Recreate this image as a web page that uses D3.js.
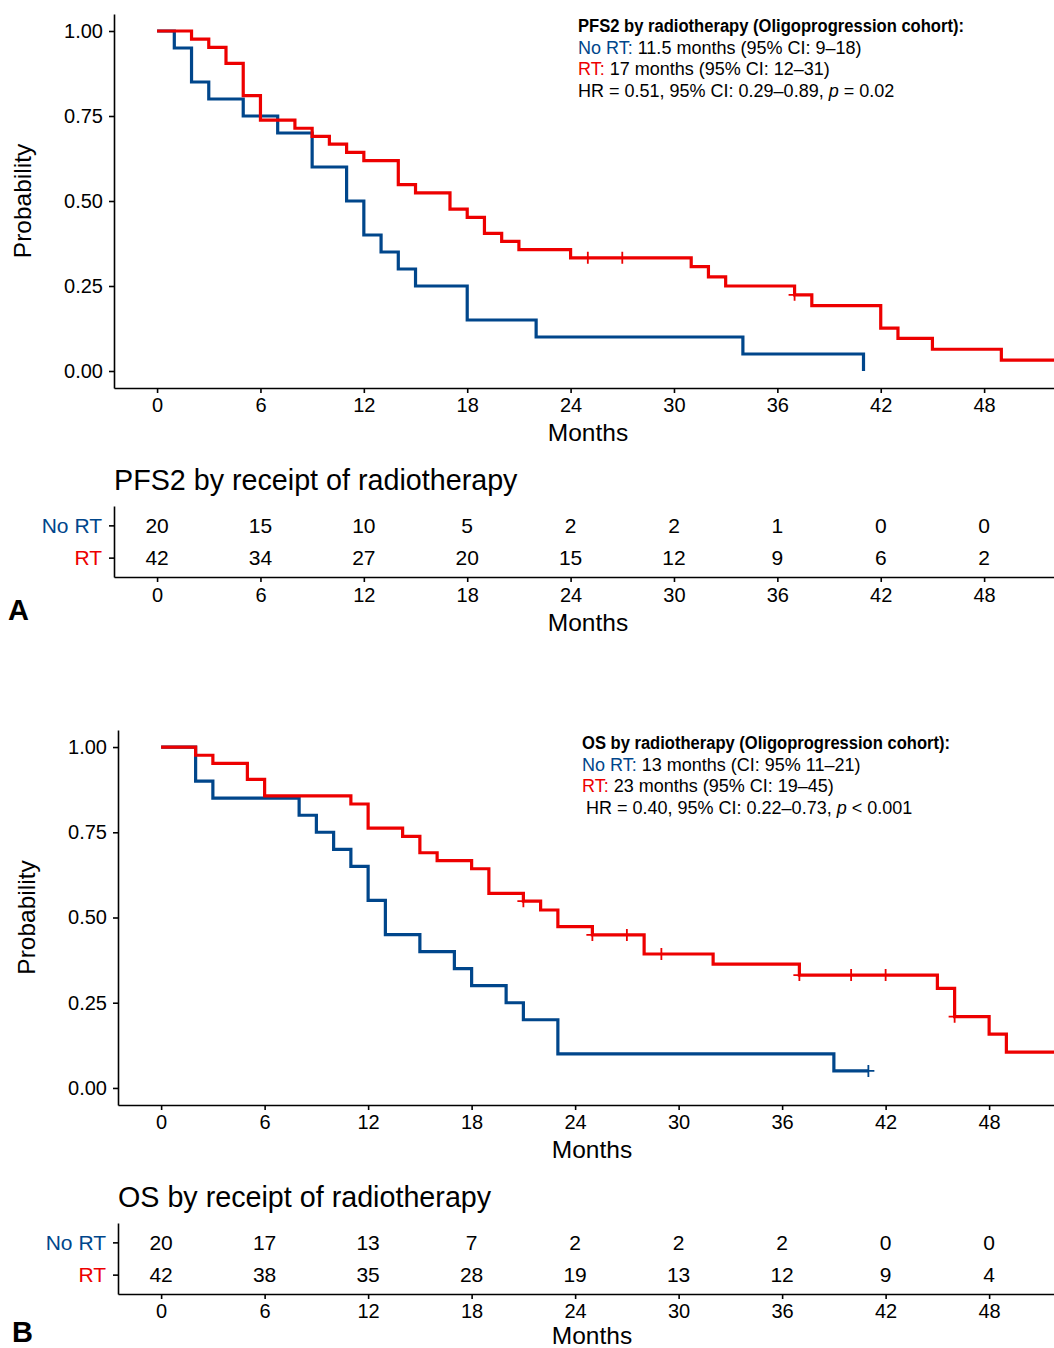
<!DOCTYPE html>
<html>
<head>
<meta charset="utf-8">
<script src="https://cdn.jsdelivr.net/npm/d3@7"></script>
<style>
  body { margin: 0; background: #fff; }
  svg { font-family: "Liberation Sans", Arial, Helvetica, sans-serif; }
  .axis path, .axis line { stroke: #000; stroke-width: 1.6; }
  .axis text { fill: #000; }
</style>
</head>
<body>
<svg id="chart"></svg>
<script>
var svgWidth = 1054;
var svgHeight = 1348;

var blue = "#00468B";
var red = "#ED0000";

// Data
// ==============================
var xTicks = [0, 6, 12, 18, 24, 30, 36, 42, 48];
var yTicks = [0, 0.25, 0.5, 0.75, 1];
var groups = ["No RT", "RT"];

// PFS2 (panel A)
var pfsNoRtTime = [0, 1, 2, 3, 5, 7, 9, 11, 12, 13, 14, 15, 18, 22, 34, 41];
var pfsNoRtSurv = [1, 0.95, 0.85, 0.80, 0.75, 0.70, 0.60, 0.50, 0.40, 0.35, 0.30, 0.25, 0.15, 0.10, 0.05, 0];
var pfsNoRtCensor = [];
var pfsRtTime = [0, 2, 3, 4, 5, 6, 8, 9, 10, 11, 12, 14, 15, 17, 18, 19, 20, 21, 24, 31, 32, 33, 37, 38, 42, 43, 45, 49, 53];
var pfsRtSurv = [1, 0.976, 0.952, 0.905, 0.810, 0.738, 0.714, 0.690, 0.667, 0.643, 0.619, 0.548, 0.524, 0.476, 0.452, 0.405, 0.381, 0.357, 0.333, 0.307, 0.277, 0.25, 0.224, 0.192, 0.126, 0.096, 0.064, 0.032, 0.032];
var pfsRtCensor = [25, 27, 37];
var pfsRiskNoRt = [20, 15, 10, 5, 2, 2, 1, 0, 0];
var pfsRiskRt = [42, 34, 27, 20, 15, 12, 9, 6, 2];

// OS (panel B)
var osNoRtTime = [0, 2, 3, 8, 9, 10, 11, 12, 13, 15, 17, 18, 20, 21, 23, 39, 41];
var osNoRtSurv = [1, 0.90, 0.85, 0.80, 0.75, 0.70, 0.65, 0.55, 0.45, 0.40, 0.35, 0.30, 0.25, 0.20, 0.10, 0.05, 0.05];
var osNoRtCensor = [41];
var osRtTime = [0, 2, 3, 5, 6, 11, 12, 14, 15, 16, 18, 19, 21, 22, 23, 25, 28, 32, 37, 45, 46, 48, 49, 53];
var osRtSurv = [1, 0.976, 0.952, 0.905, 0.857, 0.833, 0.762, 0.738, 0.690, 0.667, 0.643, 0.571, 0.548, 0.522, 0.473, 0.449, 0.393, 0.363, 0.331, 0.292, 0.209, 0.158, 0.105, 0.105];
var osRtCensor = [21, 25, 27, 29, 37, 40, 42, 46];
var osRiskNoRt = [20, 17, 13, 7, 2, 2, 2, 0, 0];
var osRiskRt = [42, 38, 35, 28, 19, 13, 12, 9, 4];

var svg = d3.select("#chart")
  .attr("width", svgWidth)
  .attr("height", svgHeight);

function toPoints(times, surv) {
  return times.map(function(t, i) { return { t: t, s: surv[i] }; });
}

// survival level at time t (step function, right-continuous)
function levelAt(times, surv, t) {
  var i = d3.bisectRight(times, t) - 1;
  return surv[Math.max(i, 0)];
}

function drawPanel(p) {
  var x = d3.scaleLinear().domain([-2.5, 52.5]).range([p.left, p.left + 55 * p.perMonth]);
  var y = d3.scaleLinear().domain([-0.05, 1.05]).range([p.plotBottom, p.plotTop]);

  // Axes
  // ==============================
  svg.append("g")
    .attr("class", "axis")
    .attr("transform", `translate(0, ${p.plotBottom})`)
    .call(d3.axisBottom(x).tickValues(xTicks).tickSize(5).tickSizeOuter(0).tickPadding(5))
    .selectAll("text").style("font-size", "20px");

  svg.append("g")
    .attr("class", "axis")
    .attr("transform", `translate(${p.left}, 0)`)
    .call(d3.axisLeft(y).tickValues(yTicks).tickSize(5).tickSizeOuter(0).tickPadding(6)
      .tickFormat(d3.format(".2f")))
    .selectAll("text").style("font-size", "20px");

  svg.append("text")
    .attr("transform", `translate(${p.left - 83}, ${(p.plotTop + p.plotBottom) / 2}) rotate(-90)`)
    .attr("text-anchor", "middle")
    .style("font-size", "24.5px")
    .text("Probability");

  svg.append("text")
    .attr("x", p.left + 474)
    .attr("y", p.plotBottom + 53)
    .attr("text-anchor", "middle")
    .style("font-size", "24.5px")
    .text("Months");

  // Curves
  // ==============================
  var line = d3.line()
    .curve(d3.curveStepAfter)
    .x(d => x(d.t))
    .y(d => y(d.s));

  var series = [
    { time: p.noRtTime, surv: p.noRtSurv, censor: p.noRtCensor, color: blue },
    { time: p.rtTime, surv: p.rtSurv, censor: p.rtCensor, color: red }
  ];

  series.forEach(function(s) {
    svg.append("path")
      .datum(toPoints(s.time, s.surv))
      .attr("fill", "none")
      .attr("stroke", s.color)
      .attr("stroke-width", 3.2)
      .attr("d", line);

    svg.append("g").selectAll("path")
      .data(s.censor)
      .enter()
      .append("path")
      .attr("transform", t => `translate(${x(t)}, ${y(levelAt(s.time, s.surv, t))})`)
      .attr("d", "M-6,0H6M0,-6V6")
      .attr("stroke", s.color)
      .attr("stroke-width", 1.8);
  });

  // Annotation
  // ==============================
  var note = svg.append("g").style("font-size", "18px");
  note.append("text")
    .attr("x", p.noteX)
    .attr("y", p.noteY)
    .attr("textLength", p.noteTitleLen)
    .attr("lengthAdjust", "spacingAndGlyphs")
    .style("font-weight", "bold")
    .text(p.noteTitle);

  var l1 = note.append("text").attr("x", p.noteX).attr("y", p.noteY + 21.5);
  l1.append("tspan").attr("fill", blue).text("No RT:");
  l1.append("tspan").text(p.noteNoRt);

  var l2 = note.append("text").attr("x", p.noteX).attr("y", p.noteY + 43);
  l2.append("tspan").attr("fill", red).text("RT:");
  l2.append("tspan").text(p.noteRt);

  var l3 = note.append("text").attr("x", p.noteX + p.hrIndent).attr("y", p.noteY + 64.5);
  l3.append("tspan").text(p.noteHr);
  l3.append("tspan").style("font-style", "italic").text("p");
  l3.append("tspan").text(p.noteP);

  // Risk table
  // ==============================
  svg.append("text")
    .attr("x", p.left)
    .attr("y", p.riskTitleY)
    .style("font-size", "28.7px")
    .text(p.riskTitle);

  var ry = d3.scalePoint().domain(groups).range([p.riskTop, p.riskBottom]).padding(0.6);

  svg.append("g")
    .attr("class", "axis")
    .attr("transform", `translate(0, ${p.riskBottom})`)
    .call(d3.axisBottom(x).tickValues(xTicks).tickSize(5).tickSizeOuter(0).tickPadding(p.riskTickPad))
    .selectAll("text").style("font-size", "20px");

  var riskAxis = svg.append("g")
    .attr("class", "axis")
    .attr("transform", `translate(${p.left}, 0)`)
    .call(d3.axisLeft(ry).tickSize(5).tickSizeOuter(0).tickPadding(7));
  riskAxis.selectAll("text")
    .style("font-size", "21px")
    .style("fill", d => d === "RT" ? red : blue);

  var rows = [
    { group: "No RT", values: p.riskNoRt },
    { group: "RT", values: p.riskRt }
  ];
  rows.forEach(function(r) {
    svg.append("g").selectAll("text")
      .data(r.values)
      .enter()
      .append("text")
      .attr("x", (d, i) => x(xTicks[i]))
      .attr("y", ry(r.group))
      .attr("dy", "0.36em")
      .attr("text-anchor", "middle")
      .style("font-size", "21px")
      .text(d => d);
  });

  svg.append("text")
    .attr("x", p.left + 474)
    .attr("y", p.riskBottom + p.monthsGap)
    .attr("text-anchor", "middle")
    .style("font-size", "24.5px")
    .text("Months");

  svg.append("text")
    .attr("x", p.letterX)
    .attr("y", p.letterY)
    .style("font-size", "29px")
    .style("font-weight", "bold")
    .text(p.letter);
}

drawPanel({
  left: 114, perMonth: 17.23, plotTop: 14, plotBottom: 388,
  noRtTime: pfsNoRtTime, noRtSurv: pfsNoRtSurv, noRtCensor: pfsNoRtCensor,
  rtTime: pfsRtTime, rtSurv: pfsRtSurv, rtCensor: pfsRtCensor,
  noteX: 578, noteY: 32, hrIndent: 0, noteTitleLen: 386,
  noteTitle: "PFS2 by radiotherapy (Oligoprogression cohort):",
  noteNoRt: " 11.5 months (95% CI: 9\u201318)",
  noteRt: " 17 months (95% CI: 12\u201331)",
  noteHr: "HR = 0.51, 95% CI: 0.29\u20130.89, ",
  noteP: " = 0.02",
  riskTitle: "PFS2 by receipt of radiotherapy", riskTitleY: 490,
  riskTop: 506, riskBottom: 577, monthsGap: 54, riskTickPad: 6,
  riskNoRt: pfsRiskNoRt, riskRt: pfsRiskRt,
  letter: "A", letterX: 8, letterY: 620
});

drawPanel({
  left: 118, perMonth: 17.25, plotTop: 730, plotBottom: 1105,
  noRtTime: osNoRtTime, noRtSurv: osNoRtSurv, noRtCensor: osNoRtCensor,
  rtTime: osRtTime, rtSurv: osRtSurv, rtCensor: osRtCensor,
  noteX: 582, noteY: 749, hrIndent: 4, noteTitleLen: 368,
  noteTitle: "OS by radiotherapy (Oligoprogression cohort):",
  noteNoRt: " 13 months (CI: 95% 11\u201321)",
  noteRt: " 23 months (95% CI: 19\u201345)",
  noteHr: "HR = 0.40, 95% CI: 0.22\u20130.73, ",
  noteP: " < 0.001",
  riskTitle: "OS by receipt of radiotherapy", riskTitleY: 1207,
  riskTop: 1223, riskBottom: 1294, monthsGap: 50, riskTickPad: 5,
  riskNoRt: osRiskNoRt, riskRt: osRiskRt,
  letter: "B", letterX: 12, letterY: 1342
});
</script>
</body>
</html>
